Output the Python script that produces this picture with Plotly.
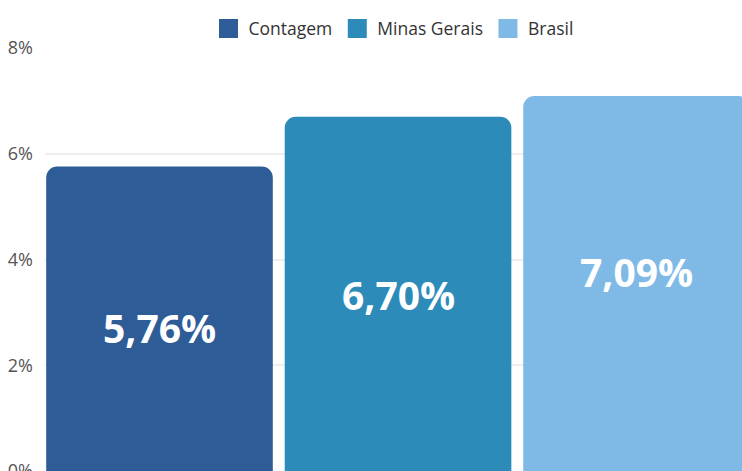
import plotly.graph_objects as go

categories = ["Contagem", "Minas Gerais", "Brasil"]
values = [5.76, 6.70, 7.09]
label_y = [2.72, 3.34, 3.77]
colors = ["#2E5C96", "#2D8BBA", "#7FBAE7"]
tick_vals = [0, 2, 4, 6, 8]
tick_text = ["0%", "2%", "4%", "6%", "8%"]

W, H = 742, 471
ML, MT = 45, 48

fig = go.Figure()
for cat, val, col in zip(categories, values, colors):
    fig.add_trace(go.Bar(
        x=[cat], y=[val], width=0.95,
        marker=dict(color=col, cornerradius=11, line=dict(width=0)),
        showlegend=False, hoverinfo="skip",
    ))
    fig.add_trace(go.Scatter(
        x=[None], y=[None], mode="markers", name=cat,
        marker=dict(symbol="square", size=16, color=col, line=dict(color=col, width=3)),
    ))

for cat, val, ly in zip(categories, values, label_y):
    fig.add_annotation(
        x=cat, y=ly, xref="x", yref="y", showarrow=False,
        text=f"{val:.2f}".replace(".", ",") + "%",
        font=dict(family="Open Sans", size=39, color="white", weight="bold"),
    )

fig.update_layout(
    width=W, height=H,
    margin=dict(l=ML, r=0, t=MT, b=0),
    paper_bgcolor="white", plot_bgcolor="white",
    barmode="overlay",
    font=dict(family="Open Sans", color="#333333"),
    legend=dict(
        orientation="h", x=0.5, xanchor="center", y=1.046, yanchor="middle",
        font=dict(size=17.5, color="#333333"), itemclick=False, itemdoubleclick=False,
        tracegroupgap=0,
    ),
    xaxis=dict(
        categoryorder="array", categoryarray=categories,
        range=[-0.48, 2.442], showticklabels=False, showgrid=False,
        zeroline=False, showline=False, ticks="", automargin=False, fixedrange=True,
    ),
    yaxis=dict(
        range=[0, 8], tickvals=tick_vals, ticktext=tick_text,
        showgrid=True, gridcolor="#EEEEEE", gridwidth=2,
        zeroline=False, showline=False, ticks="",
        tickfont=dict(size=18, color="#555555"),
        ticklabelstandoff=11, ticklabeloverflow="allow",
        automargin=False, fixedrange=True,
    ),
)

fig.write_html(
    "out.html",
    config={"displayModeBar": False},
    post_script="document.body.style.margin='0';document.body.style.overflow='hidden';",
)
